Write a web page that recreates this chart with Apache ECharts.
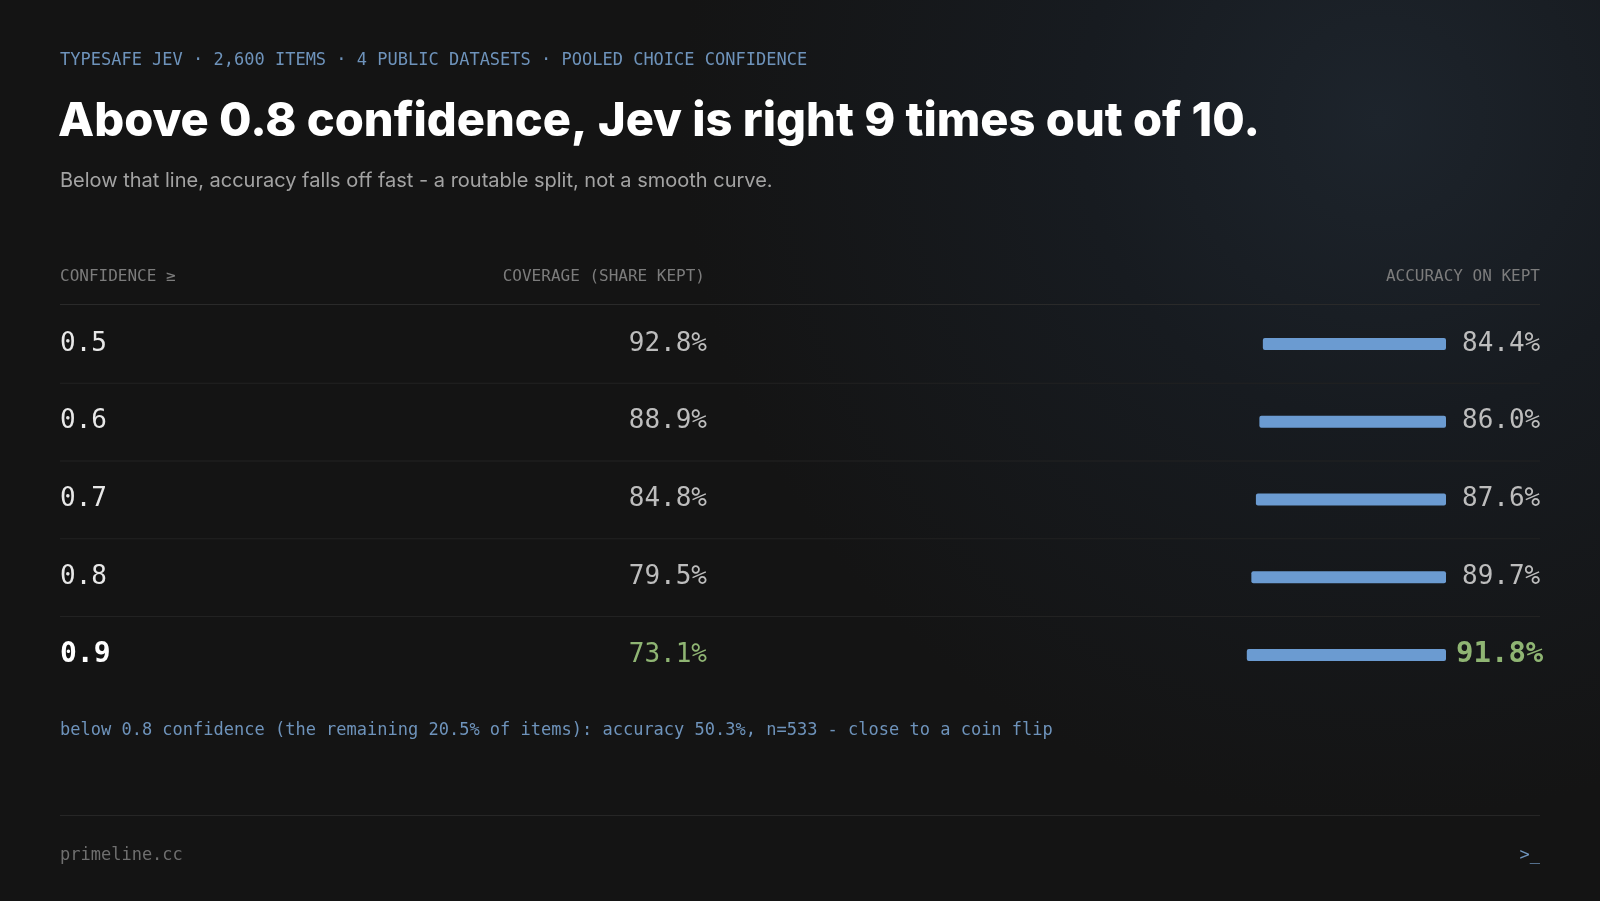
<!DOCTYPE html>
<html><head><meta charset="utf-8">
<script src="https://cdn.jsdelivr.net/npm/echarts@6/dist/echarts.min.js"></script>
<style>
html,body{margin:0;padding:0;width:1600px;height:901px;overflow:hidden;
background:radial-gradient(circle at 1380px 120px,#1d242c 0,#171b20 300px,#141414 700px);}
#chart{width:1600px;height:901px;}
</style></head><body>
<div id="chart"></div>
<script>
var thresholds = ['0.5', '0.6', '0.7', '0.8', '0.9'];
var coverage = [92.8, 88.9, 84.8, 79.5, 73.1];
var accuracy = [84.4, 86.0, 87.6, 89.7, 91.8];

var mono = '"DejaVu Sans Mono", monospace';
var rowTop = 305, rowH = 77.75;
var green = '#8fb573';
var last = thresholds.length - 1;

var graphics = [
    {type: 'text', left: 60, top: 52, style: {text: 'TYPESAFE JEV · 2,600 ITEMS · 4 PUBLIC DATASETS · POOLED CHOICE CONFIDENCE', font: '17px ' + mono, fill: '#6e93bb'}},
    {type: 'text', left: 58, top: 98, style: {text: 'Above 0.8 confidence, Jev is right 9 times out of 10.', font: '800 47px Inter', fill: '#ffffff'}},
    {type: 'text', left: 60, top: 171, style: {text: 'Below that line, accuracy falls off fast - a routable split, not a smooth curve.', font: '20px Inter', fill: '#a3a3a3'}},
    {type: 'text', left: 60, top: 269, style: {text: 'CONFIDENCE ≥', font: '16px ' + mono, fill: '#7c7c7c'}},
    {type: 'text', right: 895, top: 269, style: {text: 'COVERAGE (SHARE KEPT)', font: '16px ' + mono, fill: '#7c7c7c'}},
    {type: 'text', right: 60, top: 269, style: {text: 'ACCURACY ON KEPT', font: '16px ' + mono, fill: '#7c7c7c'}},
    {type: 'rect', shape: {x: 60, y: 304, width: 1480, height: 1}, style: {fill: '#2a2a2a'}},
    {type: 'text', left: 60, top: 722, style: {text: 'below 0.8 confidence (the remaining 20.5% of items): accuracy 50.3%, n=533 - close to a coin flip', font: '17px ' + mono, fill: '#6e93bb'}},
    {type: 'rect', shape: {x: 60, y: 815, width: 1480, height: 1}, style: {fill: '#262626'}},
    {type: 'text', left: 60, top: 847, style: {text: 'primeline.cc', font: '17px ' + mono, fill: '#6f6f6f'}},
    {type: 'text', right: 60, top: 847, style: {text: '>_', font: '17px ' + mono, fill: '#6e93bb'}}
];
thresholds.forEach(function (t, i) {
    var cy = rowTop + rowH * (i + 0.5);
    var hi = i === last;
    graphics.push({type: 'text', left: 60, y: cy, style: {text: t, font: (hi ? 'bold 28px ' : '26px ') + mono, fill: hi ? '#ffffff' : '#e8e8e8', verticalAlign: 'middle'}});
    graphics.push({type: 'text', right: 893, y: cy, style: {text: coverage[i].toFixed(1) + '%', font: '26px ' + mono, fill: hi ? green : '#bdbdbd', verticalAlign: 'middle'}});
    if (i < last) graphics.push({type: 'rect', shape: {x: 60, y: rowTop + rowH * (i + 1), width: 1480, height: 1}, style: {fill: '#222222'}});
});

var option = {
    animation: false,
    grid: {left: 1229, width: 217, top: rowTop, height: rowH * thresholds.length},
    xAxis: {type: 'value', min: 0, max: 100, inverse: true, show: false},
    yAxis: {type: 'category', data: thresholds, inverse: true, show: false},
    graphic: graphics,
    series: [{
        type: 'bar',
        barWidth: 12,
        data: accuracy.map(function (v, i) {
            return {
                value: v,
                itemStyle: {color: '#6b9bd1', borderRadius: 2},
                label: i === last ? {color: green, fontSize: 29, fontWeight: 'bold', distance: 10} : {}
            };
        }),
        label: {
            show: true, position: 'right', distance: 16,
            fontFamily: mono, fontSize: 26, color: '#bdbdbd',
            formatter: function (p) { return p.value.toFixed(1) + '%'; }
        }
    }]
};
var chart = echarts.init(document.getElementById('chart'), null, {renderer: 'canvas'});
chart.setOption(option);
</script>
</body></html>
